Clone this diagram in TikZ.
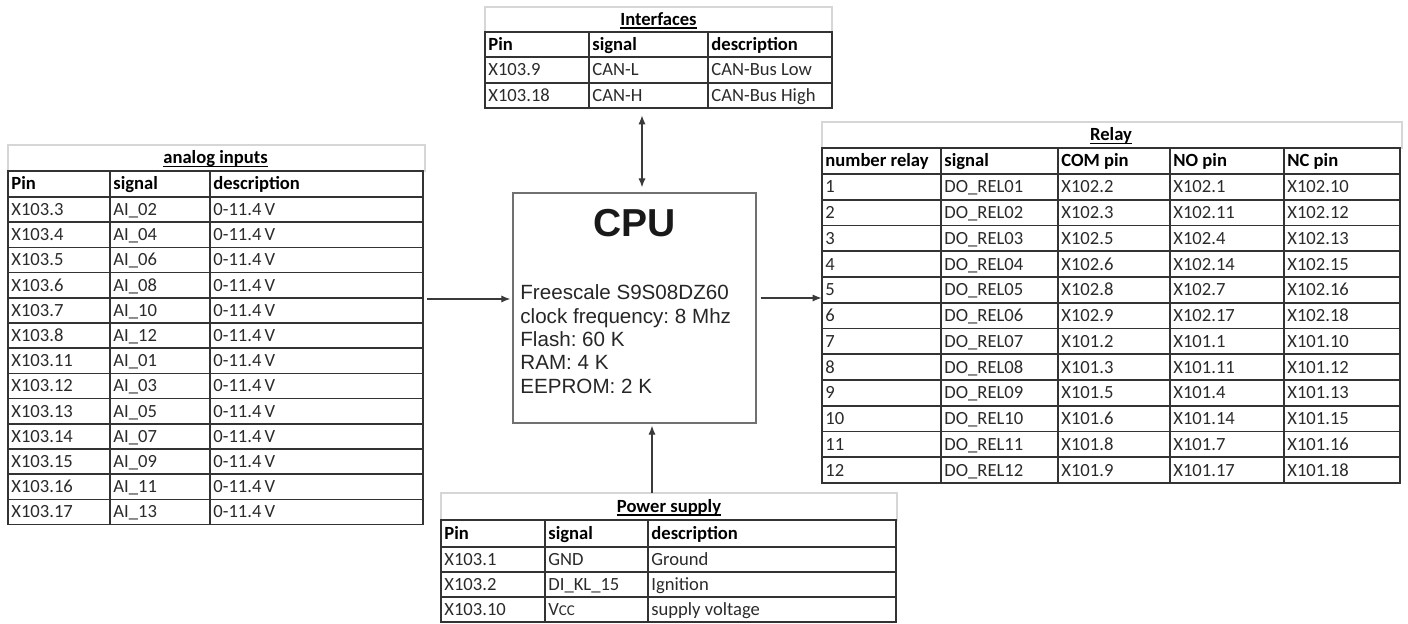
\documentclass[tikz,border=0pt]{standalone}
\usepackage{fontspec}
\setmainfont{Carlito}
\newfontfamily\arialfont{Liberation Sans}
\usetikzlibrary{arrows.meta,calc}
\definecolor{gridc}{HTML}{333333}
\definecolor{titlec}{HTML}{D6D6D6}
\definecolor{txtc}{HTML}{2A2A2A}
\definecolor{arrc}{HTML}{3A3A3A}
\definecolor{cpuc}{HTML}{707070}
\newcommand\ulhead[1]{\setbox0=\hbox{\bfseries #1}\rlap{\vrule height -0.9pt depth 1.6pt width \wd0}\box0}
\begin{document}
\begin{tikzpicture}[x=0.5pt,y=-0.5pt,
  grid/.style={draw=gridc,line width=0.8pt},
  tbox/.style={draw=titlec,line width=0.6pt},
  cell/.style={anchor=base west,inner sep=0,font=\fontsize{9.3}{11}\selectfont,text=txtc},
  head/.style={anchor=base west,inner sep=0,font=\fontsize{9.3}{11}\selectfont\bfseries,text=black},
  ttl/.style={anchor=base,inner sep=0,font=\fontsize{9.3}{11}\selectfont,text=black},
  area/.style={inner sep=0,draw=none},
  cpubox/.style={draw=cpuc,line width=0.7pt,inner sep=0},
  cputitle/.style={anchor=base,inner sep=0,font=\arialfont\bfseries\fontsize{19.5}{22}\selectfont,text=black!90},
  cpuline/.style={anchor=base west,inner sep=0,font=\arialfont\fontsize{10.3}{12}\selectfont\frenchspacing,text=black!85},
  arr/.style={draw=arrc,line width=0.6pt,-{Latex[length=4.5pt,width=3.6pt]}},
  darr/.style={draw=arrc,line width=0.6pt,{Latex[length=4.5pt,width=3.6pt]}-{Latex[length=4.5pt,width=3.6pt]}}]

\useasboundingbox (0,0) rectangle (1408,624);

% ---------- area nodes ----------
\node[area,minimum width=208.5pt,minimum height=190pt] (ai) at (216.5,335) {};
\node[area,minimum width=173.5pt,minimum height=50.5pt] (ifc) at (658.5,57.5) {};
\node[area,minimum width=290pt,minimum height=180.5pt] (rl) at (1112,302.5) {};
\node[area,minimum width=228pt,minimum height=64.5pt] (ps) at (669,557.5) {};

% ---------- analog inputs ----------
\draw[tbox] (8,145) rectangle (425,171);
\node[ttl] (aiT) at (215.5,164) {\ulhead{analog inputs}};
\draw[grid] (8,171) rectangle (423,524.6);
\foreach \k in {0,...,12} \draw[grid] (8,{197+25.2*\k}) -- (423,{197+25.2*\k});
\foreach \xx in {110,210} \draw[grid] (\xx,171) -- (\xx,524.6);
\node[head] (aiH1) at (11,190) {Pin};
\node[head] (aiH2) at (113,190) {signal};
\node[head] (aiH3) at (213,190) {description};
\foreach \p/\s [count=\i from 0] in {X103.3/AI\_02,X103.4/AI\_04,X103.5/AI\_06,X103.6/AI\_08,X103.7/AI\_10,X103.8/AI\_12,X103.11/AI\_01,X103.12/AI\_03,X103.13/AI\_05,X103.14/AI\_07,X103.15/AI\_09,X103.16/AI\_11,X103.17/AI\_13}{
  \node[cell] (aiP\i) at (11,{197+25.2*\i+18.6}) {\p};
  \node[cell] (aiS\i) at (113,{197+25.2*\i+18.6}) {\s};
  \node[cell] (aiD\i) at (213,{197+25.2*\i+18.6}) {0-11.4\,V};
}

% ---------- interfaces ----------
\draw[tbox] (485,7) rectangle (832,32);
\node[ttl] (ifT) at (658.5,25.5) {\ulhead{Interfaces}};
\draw[grid] (485,32) rectangle (832,108);
\draw[grid] (485,57) -- (832,57);
\draw[grid] (485,83) -- (832,83);
\foreach \xx in {589,708} \draw[grid] (\xx,32) -- (\xx,108);
\node[head] (ifH1) at (488,50.5) {Pin};
\node[head] (ifH2) at (592,50.5) {signal};
\node[head] (ifH3) at (711,50.5) {description};
\node[cell] (ifP1) at (488,76) {X103.9};
\node[cell] (ifS1) at (592,76) {CAN-L};
\node[cell] (ifD1) at (711,76) {CAN-Bus Low};
\node[cell] (ifP2) at (488,101.5) {X103.18};
\node[cell] (ifS2) at (592,101.5) {CAN-H};
\node[cell] (ifD2) at (711,101.5) {CAN-Bus High};

% ---------- relay ----------
\draw[tbox] (822,122) rectangle (1402,148);
\node[ttl] (rlT) at (1111,141) {\ulhead{Relay}};
\draw[grid] (822,148) rectangle (1400,483);
\foreach \k in {0,...,11} \draw[grid] (822,{174+25.75*\k}) -- (1400,{174+25.75*\k});
\foreach \xx in {941,1058,1170,1284} \draw[grid] (\xx,148) -- (\xx,483);
\node[head] (rlH1) at (825,167) {number relay};
\node[head] (rlH2) at (944,167) {signal};
\node[head] (rlH3) at (1061,167) {COM pin};
\node[head] (rlH4) at (1173,167) {NO pin};
\node[head] (rlH5) at (1287,167) {NC pin};
\foreach \s/\c/\o/\n [count=\i from 1] in {DO\_REL01/X102.2/X102.1/X102.10,DO\_REL02/X102.3/X102.11/X102.12,DO\_REL03/X102.5/X102.4/X102.13,DO\_REL04/X102.6/X102.14/X102.15,DO\_REL05/X102.8/X102.7/X102.16,DO\_REL06/X102.9/X102.17/X102.18,DO\_REL07/X101.2/X101.1/X101.10,DO\_REL08/X101.3/X101.11/X101.12,DO\_REL09/X101.5/X101.4/X101.13,DO\_REL10/X101.6/X101.14/X101.15,DO\_REL11/X101.8/X101.7/X101.16,DO\_REL12/X101.9/X101.17/X101.18}{
  \node[cell] (rlN\i) at (825,{174+25.75*(\i-1)+18.9}) {\i};
  \node[cell] (rlS\i) at (944,{174+25.75*(\i-1)+18.9}) {\s};
  \node[cell] (rlC\i) at (1061,{174+25.75*(\i-1)+18.9}) {\c};
  \node[cell] (rlO\i) at (1173,{174+25.75*(\i-1)+18.9}) {\o};
  \node[cell] (rlX\i) at (1287,{174+25.75*(\i-1)+18.9}) {\n};
}

% ---------- power supply ----------
\draw[tbox] (441,493) rectangle (897,520);
\node[ttl] (psT) at (669,512.5) {\ulhead{Power supply}};
\draw[grid] (441,520) rectangle (896,622);
\foreach \yy in {547,572,597} \draw[grid] (441,\yy) -- (896,\yy);
\foreach \xx in {545,648} \draw[grid] (\xx,520) -- (\xx,622);
\node[head] (psH1) at (444,539.5) {Pin};
\node[head] (psH2) at (548,539.5) {signal};
\node[head] (psH3) at (651,539.5) {description};
\node[cell] (psP1) at (444,565.5) {X103.1};
\node[cell] (psS1) at (548,565.5) {GND};
\node[cell] (psD1) at (651,565.5) {Ground};
\node[cell] (psP2) at (444,590.5) {X103.2};
\node[cell] (psS2) at (548,590.5) {DI\_KL\_15};
\node[cell] (psD2) at (651,590.5) {Ignition};
\node[cell] (psP3) at (444,615.5) {X103.10};
\node[cell] (psS3) at (548,615.5) {V{\fontsize{7.5}{9}\selectfont CC}};
\node[cell] (psD3) at (651,615.5) {supply voltage};

% ---------- CPU ----------
\node[cpubox,minimum width=121.5pt,minimum height=115pt] (cpu) at (634.5,308) {};
\node[cputitle] (cpuT) at (634.5,236.7) {CPU};
\foreach \t [count=\i from 0] in {Freescale S9S08DZ60,clock frequency: 8 Mhz,Flash: 60 K,RAM: 4 K,EEPROM: 2 K}
  \node[cpuline] (cpuL\i) at (520,{300+23.3*\i}) {\t};

% ---------- connectors ----------
\draw[arr] ($(ai.east |- cpu.west)+(2,-9)$) -- ($(cpu.west)+(-2,-9)$);
\draw[arr] ($(cpu.east)+(4,-10)$) -- ($(rl.west |- cpu.east)+(0,-10)$);
\draw[darr] ($(ifc.south)+(-16.5,7)$) -- ($(cpu.north)+(7.5,-5)$);
\draw[arr] ($(ps.north)+(-17,0)$) -- ($(cpu.south)+(17.5,2)$);
\end{tikzpicture}
\end{document}
